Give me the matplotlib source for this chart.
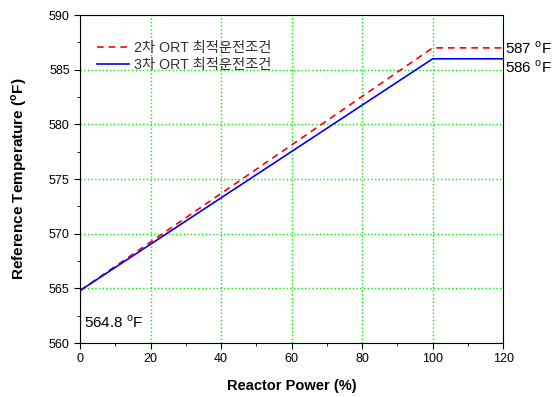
import matplotlib
matplotlib.use("Agg")
import matplotlib.pyplot as plt
from matplotlib.ticker import MultipleLocator

plt.rcParams['font.family'] = ['Liberation Sans', 'Noto Sans CJK KR', 'DejaVu Sans']
plt.rcParams['mathtext.fontset'] = 'custom'
plt.rcParams['mathtext.rm'] = 'Liberation Sans'
plt.rcParams['mathtext.bf'] = 'Liberation Sans:bold'

# data
power = [0, 100, 120]
temp_2nd = [564.8, 587, 587]
temp_3rd = [564.8, 586, 586]
labels = ["2차 ORT 최적운전조건", "3차 ORT 최적운전조건"]

fig = plt.figure(figsize=(5.56, 3.97), dpi=100)
ax = fig.add_axes([0.144, 0.136, 0.761, 0.826])

ax.plot(power, temp_2nd, color='red', linestyle=(0, (4, 3)), linewidth=1.2, label=labels[0])
ax.plot(power, temp_3rd, color='blue', linestyle='-', linewidth=1.2, label=labels[1])

ax.set_xlim(0, 120)
ax.set_ylim(560, 590)
ax.xaxis.set_major_locator(MultipleLocator(20))
ax.xaxis.set_minor_locator(MultipleLocator(10))
ax.yaxis.set_major_locator(MultipleLocator(5))
ax.yaxis.set_minor_locator(MultipleLocator(2.5))
ax.tick_params(which='both', direction='out', labelsize=9, top=False, right=False)
ax.tick_params(which='major', length=4)
ax.tick_params(which='minor', length=2.5)

ax.grid(True, which='major', color='#00ee00', linestyle=':', linewidth=1)

ax.set_xlabel("Reactor Power (%)", fontsize=10.5, fontweight='bold', labelpad=10)
ax.set_ylabel(r"Reference Temperature ($^{\mathbf{o}}$F)", fontsize=11, fontweight='bold', labelpad=14)

ax.text(1.005, 587, r"587 $^{\mathrm{o}}$F", transform=ax.get_yaxis_transform(),
        fontsize=11, va='center', ha='left')
ax.text(1.005, 586, r"586 $^{\mathrm{o}}$F", transform=ax.get_yaxis_transform(),
        fontsize=11, va='top', ha='left')
ax.text(1.0, 561.9, r"564.8 $^{\mathrm{o}}$F", fontsize=11, va='center', ha='left')

ax.legend(loc='upper left', bbox_to_anchor=(0.01, 0.96), frameon=False, fontsize=10.3,
          handlelength=2.2, handletextpad=0.35, labelspacing=0.2, labelcolor='#333333')

fig.savefig("out.png", dpi=100)
